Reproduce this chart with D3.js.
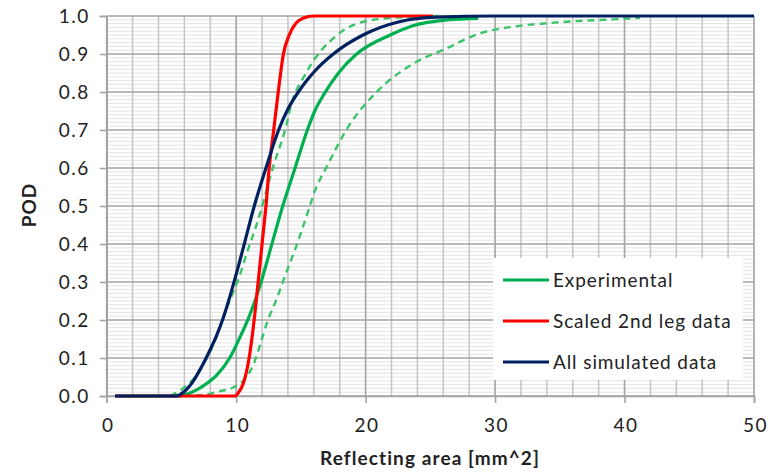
<!DOCTYPE html>
<html><head><meta charset="utf-8">
<script src="https://cdn.jsdelivr.net/npm/d3@7"></script>
<style>body{margin:0;background:#fff}svg{display:block}</style>
</head><body>
<svg id="c" width="776" height="474"></svg>
<script>
// ---- data ----
const xTickValues = [0, 10, 20, 30, 40, 50];
const yTickValues = [0, 0.1, 0.2, 0.3, 0.4, 0.5, 0.6, 0.7, 0.8, 0.9, 1.0];
const legendLabels = ["Experimental", "Scaled 2nd leg data", "All simulated data"];

const expX = [0.65, 5.5, 6.2, 6.95, 7.6, 8.5, 9.5, 10.3, 11.07, 11.84, 12.76, 13.6, 14.55, 15.5, 16.1, 16.8, 17.9, 19.3, 21.9, 23.7, 26.3, 28.7];
const expY = [0, 0, 0.005, 0.016, 0.03, 0.055, 0.1, 0.155, 0.215, 0.29, 0.4, 0.5, 0.6, 0.7, 0.752, 0.795, 0.85, 0.9, 0.95, 0.975, 0.99, 0.994];

const expLowX = [4.9, 5.9, 6.7, 7.5, 8.3, 9.2, 10.24, 10.9, 11.53, 12.94, 13.85, 14.2, 15.4, 17.8, 20.6, 23.7, 26.0];
const expLowY = [0, 0.02, 0.045, 0.085, 0.14, 0.225, 0.314, 0.384, 0.446, 0.612, 0.709, 0.76, 0.85, 0.95, 0.99, 0.998, 1.0];

const expHighX = [5.0, 7.5, 8.5, 9.8, 10.8, 11.3, 11.9, 12.35, 13.1, 13.85, 14.6, 15.5, 16.03, 17.1, 18.5, 20.85, 23.7, 26.25, 28.8, 31.4, 34.0, 36.5, 39.1, 41.2];
const expHighY = [0, 0.003, 0.011, 0.023, 0.05, 0.08, 0.14, 0.19, 0.253, 0.323, 0.39, 0.48, 0.535, 0.61, 0.7, 0.8, 0.875, 0.915, 0.954, 0.972, 0.981, 0.987, 0.991, 0.995];

const scaledX = [0.65, 9.9, 10.2, 10.55, 10.93, 11.2, 11.45, 11.7, 12.0, 12.3, 12.55, 12.9, 13.25, 13.65, 14.1, 14.6, 15.2, 16.0, 25.2];
const scaledY = [0, 0, 0.01, 0.033, 0.086, 0.147, 0.218, 0.3, 0.4, 0.5, 0.6, 0.7, 0.8, 0.9, 0.95, 0.98, 0.995, 1.0, 1.0];

const simX = [0.65, 5.3, 6.0, 6.7, 7.3, 7.9, 8.5, 9.0, 9.5, 10.0, 10.55, 11.4, 12.3, 13.28, 14.0, 14.8, 15.5, 16.1, 17.5, 19.8, 22.6, 25.5, 30, 50];
const simY = [0, 0, 0.012, 0.04, 0.075, 0.115, 0.16, 0.205, 0.26, 0.32, 0.39, 0.5, 0.6, 0.7, 0.755, 0.8, 0.832, 0.856, 0.9, 0.95, 0.985, 0.997, 1.0, 1.0];

// ---- layout ----
const svg = d3.select("#c");
const x = d3.scaleLinear().domain([0, 50]).range([106.7, 754]);
const y = d3.scaleLinear().domain([0, 1]).range([396, 16]);
const FONT = "Lato, 'Open Sans', sans-serif";
const TXT = "#222";

// minor horizontal grid (0.01)
const g = svg.append("g");
g.selectAll(".hm").data(d3.range(1, 100).filter(i => i % 10 !== 0).map(i => i / 100))
  .join("line").attr("x1", x(0)).attr("x2", x(50)).attr("y1", d => y(d)).attr("y2", d => y(d))
  .attr("stroke", "#e4e4e4").attr("stroke-width", 1);
// minor vertical grid (every 2)
g.selectAll(".vm").data(d3.range(2, 50, 2).filter(v => v % 10 !== 0))
  .join("line").attr("x1", d => x(d)).attr("x2", d => x(d)).attr("y1", y(0)).attr("y2", y(1))
  .attr("stroke", "#c4c4c4").attr("stroke-width", 1.5);
// major grid
g.selectAll(".hM").data(yTickValues)
  .join("line").attr("x1", x(0)).attr("x2", x(50)).attr("y1", d => y(d)).attr("y2", d => y(d))
  .attr("stroke", "#a3a3a3").attr("stroke-width", 1.6);
g.selectAll(".vM").data(xTickValues)
  .join("line").attr("x1", d => x(d)).attr("x2", d => x(d)).attr("y1", y(0)).attr("y2", y(1))
  .attr("stroke", "#a3a3a3").attr("stroke-width", 1.6);

// axes
const xAxis = d3.axisBottom(x).tickValues(xTickValues).tickSize(7).tickPadding(16).tickFormat(d3.format("d"));
const yAxis = d3.axisLeft(y).tickValues(yTickValues).tickSize(7).tickPadding(10).tickFormat(d3.format(".1f"));
const gx = svg.append("g").attr("transform", `translate(0,${y(0)})`).call(xAxis);
const gy = svg.append("g").attr("transform", `translate(${x(0)},0)`).call(yAxis);
[gx, gy].forEach(a => {
  a.select(".domain").attr("stroke", "#a3a3a3").attr("stroke-width", 1.6);
  a.selectAll(".tick line").attr("stroke", "#a3a3a3").attr("stroke-width", 1.6);
  a.selectAll("text").attr("font-family", FONT).attr("font-size", 19).attr("fill", TXT)
    .attr("letter-spacing", 1.5);
});
gx.selectAll("text").attr("dx", 1);

// curves
const line = d3.line().x(d => x(d[0])).y(d => y(d[1])).curve(d3.curveMonotoneX);
const zip = (a, b) => a.map((v, i) => [v, b[i]]);
const plot = svg.append("g");
plot.append("path").attr("d", line(zip(expLowX, expLowY))).attr("fill", "none")
  .attr("stroke", "#3cc46a").attr("stroke-width", 2.4).attr("stroke-dasharray", "7,5");
plot.append("path").attr("d", line(zip(expHighX, expHighY))).attr("fill", "none")
  .attr("stroke", "#3cc46a").attr("stroke-width", 2.4).attr("stroke-dasharray", "7,5");
plot.append("path").attr("d", line(zip(expX, expY))).attr("fill", "none")
  .attr("stroke", "#00b050").attr("stroke-width", 3.2);
plot.append("path").attr("d", line(zip(scaledX, scaledY))).attr("fill", "none")
  .attr("stroke", "#ff0000").attr("stroke-width", 3.2);
plot.append("path").attr("d", line(zip(simX, simY))).attr("fill", "none")
  .attr("stroke", "#002060").attr("stroke-width", 3.2);

// legend
const colors = ["#00b050", "#ff0000", "#002060"];
const lg = svg.append("g");
lg.append("rect").attr("x", 493).attr("y", 258).attr("width", 250).attr("height", 122).attr("fill", "#fff");
legendLabels.forEach((t, i) => {
  const cy = 280 + i * 41;
  lg.append("line").attr("x1", 503).attr("x2", 549).attr("y1", cy).attr("y2", cy)
    .attr("stroke", colors[i]).attr("stroke-width", 3.2);
  lg.append("text").attr("x", 553).attr("y", cy + 6.5).text(t)
    .attr("font-family", FONT).attr("font-size", 19).attr("letter-spacing", 0.9).attr("fill", TXT);
});

// axis titles
svg.append("text").attr("x", 430).attr("y", 465).attr("text-anchor", "middle")
  .attr("font-family", FONT).attr("font-weight", "bold").attr("font-size", 19).attr("letter-spacing", 1.1)
  .attr("fill", TXT).text("Reflecting area [mm^2]");
svg.append("text").attr("transform", "translate(36,205) rotate(-90)").attr("text-anchor", "middle")
  .attr("font-family", FONT).attr("font-weight", "bold").attr("font-size", 19).attr("letter-spacing", 1)
  .attr("fill", TXT).text("POD");
</script>
</body></html>
